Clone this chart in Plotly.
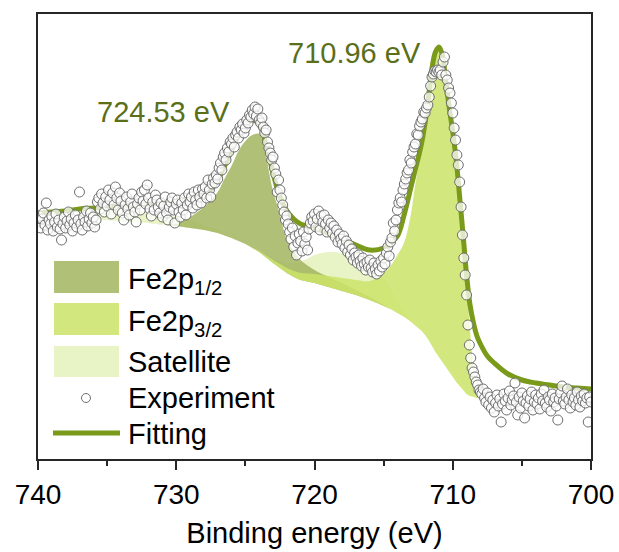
import numpy as np
import plotly.graph_objects as go

# ---------------------------------------------------------------
# Fe 2p XPS spectrum: peak-fit components on a Shirley background
# ---------------------------------------------------------------

# Energy grid of the fitted curves (eV)
energy_fit = [740, 739, 738, 737, 736, 735, 734, 733, 732, 731, 730, 729, 728,
              727.5, 727, 726.5, 726, 725.5, 725, 724.5, 724, 723.5, 723, 722.5, 722, 721.5,
              721, 720, 719, 718, 717, 716, 715,
              714.5, 714, 713.5, 713,
              712.75, 712.5, 712.25, 712, 711.75, 711.5, 711.25, 711, 710.75, 710.5,
              710.25, 710, 709.75, 709.5, 709.25, 709, 708.75, 708.5, 708.25, 708,
              707.5, 707, 706, 705, 704, 703, 702, 701, 700]

# Shirley background (a.u.)
background = [243, 242.5, 242, 241.5, 241, 240, 239, 238, 237, 235.5, 234, 232, 230,
              228.5, 227, 224.5, 222, 219, 216, 212, 208, 202.5, 197, 192, 187, 183,
              180, 177, 173, 169, 165, 160, 154,
              151, 147, 143, 138,
              135, 132, 129, 125, 120, 114, 108, 103, 98, 93,
              88, 83, 78, 74, 70, 66, 64, 63, 62, 62,
              62, 62, 62, 62, 62, 62, 62, 62, 62]

# Component intensities above the background (a.u.)
fe2p_12 = [0, 0, 0, 0, 0, 0, 0, 0, 0, 0, 2, 11, 23,
           31, 41, 57, 72, 90, 103, 113, 118, 100, 72, 54, 33, 26,
           20, 13, 10, 8, 5, 3, 1,
           0, 0, 0, 0,
           0, 0, 0, 0, 0, 0, 0, 0, 0, 0,
           0, 0, 0, 0, 0, 0, 0, 0, 0, 0,
           0, 0, 0, 0, 0, 0, 0, 0, 0]

fe2p_32 = [0, 0, 0, 0, 0, 0, 0, 0, 0, 0, 0, 0, 0,
           0, 0, 0, 0, 0, 0, 0.5, 1, 2, 3, 4, 5, 6,
           7, 9, 11, 13, 15, 19, 33,
           43, 58, 75, 110,
           137, 160, 181, 207, 238, 271, 295, 306, 304, 282,
           259, 237, 214, 181, 147, 109, 66, 27, 6, 0,
           0, 0, 0, 0, 0, 0, 0, 0, 0]

satellite = [0, 0, 0, 3, 9, 12, 12, 12, 11, 10, 9, 8, 5,
             4, 3, 2, 1, 0, 0, 0, 1, 2, 4, 7, 10, 14,
             18, 28, 35, 38, 37, 34, 28,
             20, 12, 6, 2,
             1, 0, 0, 0, 0, 0, 0, 0, 0, 0,
             0, 0, 0, 0, 0, 0, 0, 0, 0, 0,
             0, 0, 0, 0, 0, 0, 0, 0, 0]

# Overall fitted envelope (a.u.)
fitting = [247, 248, 249, 251, 252, 253, 254, 255, 256, 257, 258, 262, 267,
           271, 280, 294, 310, 325, 335, 340, 336, 315, 287, 263, 249, 241,
           236, 232, 227, 221, 215, 210, 212,
           217, 224, 246, 274,
           288, 302, 317, 337, 364, 392, 408, 413, 405, 378,
           352, 328, 300, 263, 225, 185, 155, 137, 124, 116,
           104, 97, 86, 80, 77, 75, 73, 72, 71]

# Measured spectrum, 740.0 -> 700.0 eV in 0.1 eV steps (a.u.)
energy_exp = np.linspace(740, 700, 401)
experiment = [
    238, 244, 232, 241, 247, 235, 257, 230, 240, 236,
    244, 229, 238, 246, 233, 240, 231, 220, 236, 243,
    232, 239, 248, 235, 241, 229, 237, 245, 233, 240,
    268, 236, 230, 243, 238, 249, 234, 241, 247, 237,
    243, 233, 240, 258, 262, 251, 266, 257, 248, 263,
    254, 270, 260, 246, 267, 255, 273, 262, 250, 267,
    259, 247, 240, 255, 263, 251, 245, 258, 266, 253,
    248, 238, 256, 262, 250, 268, 259, 270, 256, 275,
    262, 251, 244, 258, 250, 265, 260, 253, 247, 257,
    243, 254, 263, 247, 240, 253, 258, 262, 250, 237,
    256, 260, 248, 243, 257, 250, 262, 245, 255, 266,
    258, 263, 252, 268, 260, 255, 270, 263, 257, 271,
    266, 273, 262, 280, 270, 263, 276, 282, 277, 285,
    281, 292, 297, 290, 303, 307, 300, 312, 308, 318,
    316, 322, 313, 325, 328, 322, 333, 330, 336, 327,
    332, 340, 337, 345, 343, 350, 346, 353, 344, 351,
    340, 337, 342, 333, 327, 330, 318, 312, 307, 300,
    303, 292, 286, 268, 280, 270, 262, 255, 248, 240,
    244, 236, 228, 221, 232, 213, 224, 205, 217, 226,
    219, 209, 228, 216, 223, 210, 231, 237, 243, 239,
    246, 233, 241, 249, 230, 244, 238, 245, 236, 228,
    240, 232, 237, 227, 234, 223, 230, 218, 226, 221,
    216, 224, 212, 219, 208, 215, 205, 211, 200, 207,
    203, 197, 205, 199, 194, 202, 196, 190, 198, 193,
    200, 192, 188, 197, 191, 186, 195, 189, 199, 193,
    202, 196, 207, 213, 204, 218, 222, 237, 229, 240,
    250, 257, 262, 258, 270, 276, 281, 287, 290, 300,
    297, 308, 313, 316, 326, 325, 334, 338, 341, 348,
    347, 352, 355, 363, 374, 383, 386, 389, 388, 390,
    388, 390, 385, 398, 403, 385, 380, 372, 367, 357,
    347, 332, 320, 305, 295, 278, 253, 225, 202, 185,
    165, 135, 115, 102, 92, 88, 83, 78, 75, 70,
    68, 66, 71, 62, 58, 67, 55, 63, 52, 60,
    48, 57, 65, 54, 61, 38, 56, 66, 59, 50,
    62, 69, 55, 60, 64, 77, 58, 45, 63, 52,
    67, 59, 42, 57, 64, 54, 61, 68, 50, 58,
    65, 56, 62, 51, 66, 59, 70, 57, 53, 63,
    60, 49, 66, 58, 62, 54, 40, 61, 67, 74,
    59, 56, 63, 71, 60, 52, 65, 58, 62, 55,
    68, 60, 53, 64, 59, 66, 57, 62, 38, 63,
    58,
]

peak_labels = [("724.53 eV", 163, 112), ("710.96 eV", 354, 53)]

# ---------------- styling ----------------
W, H = 619, 552
M_L, M_R, M_T, M_B = 38, 28, 14, 93
FONT = "Arial, 'Liberation Sans', sans-serif"
TEXT_SIZE = 29
AXIS_COLOR = "#262626"
FIT_COLOR = "#7a9a1a"
LABEL_COLOR = "#5b6f1a"
COMPONENTS = [  # (name, intensities, fill colour), drawn bottom to top
    ("Satellite", satellite, "rgba(228,241,188,0.85)"),
    ("Fe2p<sub>1/2</sub>", fe2p_12, "rgba(162,181,94,0.85)"),
    ("Fe2p<sub>3/2</sub>", fe2p_32, "rgba(203,227,104,0.85)"),
]


def xp(px):
    return (px - M_L) / (W - M_L - M_R)


def yp(py):
    return (H - M_B - py) / (H - M_T - M_B)


fig = go.Figure()

bg = np.array(background, dtype=float)
for name, comp, color in COMPONENTS:
    fig.add_trace(go.Scatter(x=energy_fit, y=bg, mode="lines",
                             line=dict(width=0, shape="spline"),
                             hoverinfo="skip", showlegend=False))
    fig.add_trace(go.Scatter(x=energy_fit, y=bg + np.array(comp, dtype=float),
                             mode="lines", name=name,
                             line=dict(width=0, shape="spline"),
                             fill="tonexty", fillcolor=color, showlegend=False))

fig.add_trace(go.Scatter(x=energy_fit, y=fitting, mode="lines", name="Fitting",
                         line=dict(color=FIT_COLOR, width=5, shape="spline"),
                         showlegend=False))

fig.add_trace(go.Scatter(x=energy_exp, y=experiment, mode="markers", name="Experiment",
                         marker=dict(size=10, color="rgba(255,255,255,0.75)",
                                     line=dict(color="#6e6e6e", width=1)),
                         showlegend=False))

# ---------------- hand-built legend ----------------
shapes = []
annotations = []
legend_rows = [
    ("Fe2p<sub>1/2</sub>", "rgba(162,181,94,0.85)", 261, 293, 281),
    ("Fe2p<sub>3/2</sub>", "rgba(203,227,104,0.85)", 303, 335, 323),
    ("Satellite", "rgba(228,241,188,0.85)", 346, 377, 362),
]
for text, color, y0, y1, ty in legend_rows:
    shapes.append(dict(type="rect", xref="paper", yref="paper",
                       x0=xp(54), x1=xp(119), y0=yp(y1), y1=yp(y0),
                       fillcolor=color, line=dict(width=0), layer="above"))
    annotations.append(dict(text=text, xref="paper", yref="paper",
                            x=xp(126), y=yp(ty), xanchor="left", yanchor="middle",
                            showarrow=False, font=dict(size=TEXT_SIZE, color="black")))

shapes.append(dict(type="circle", xref="paper", yref="paper",
                   x0=xp(81.5), x1=xp(90.5), y0=yp(402.5), y1=yp(393.5),
                   fillcolor="white", line=dict(color="#6e6e6e", width=1), layer="above"))
annotations.append(dict(text="Experiment", xref="paper", yref="paper",
                        x=xp(126), y=yp(398), xanchor="left", yanchor="middle",
                        showarrow=False, font=dict(size=TEXT_SIZE, color="black")))

shapes.append(dict(type="line", xref="paper", yref="paper",
                   x0=xp(53), x1=xp(120), y0=yp(433), y1=yp(433),
                   line=dict(color=FIT_COLOR, width=5), layer="above"))
annotations.append(dict(text="Fitting", xref="paper", yref="paper",
                        x=xp(126), y=yp(434), xanchor="left", yanchor="middle",
                        showarrow=False, font=dict(size=TEXT_SIZE, color="black")))

for text, cx, cy in peak_labels:
    annotations.append(dict(text=text, xref="paper", yref="paper",
                            x=xp(cx), y=yp(cy), xanchor="center", yanchor="middle",
                            showarrow=False, font=dict(size=TEXT_SIZE, color=LABEL_COLOR)))

fig.update_layout(
    width=W, height=H,
    margin=dict(l=M_L, r=M_R, t=M_T, b=M_B, autoexpand=False),
    plot_bgcolor="white", paper_bgcolor="white",
    font=dict(family=FONT, size=TEXT_SIZE, color="black"),
    showlegend=False,
    shapes=shapes,
    annotations=annotations,
    xaxis=dict(
        range=[740, 700], tick0=700, dtick=10, automargin=False,
        ticks="outside", ticklen=9, tickwidth=2, tickcolor=AXIS_COLOR,
        tickfont=dict(size=28, color="black"),
        showline=True, linewidth=2, linecolor=AXIS_COLOR, mirror=True,
        showgrid=False, zeroline=False,
        minor=dict(tick0=700, dtick=5, ticks="outside", ticklen=5, tickwidth=2,
                   tickcolor=AXIS_COLOR, showgrid=False),
        title=dict(text="Binding energy (eV)", standoff=14,
                   font=dict(size=TEXT_SIZE, color="black")),
    ),
    yaxis=dict(
        range=[1, 446], showticklabels=False, ticks="", automargin=False,
        showline=True, linewidth=2, linecolor=AXIS_COLOR, mirror=True,
        showgrid=False, zeroline=False,
    ),
)

fig.write_html("out.html")
